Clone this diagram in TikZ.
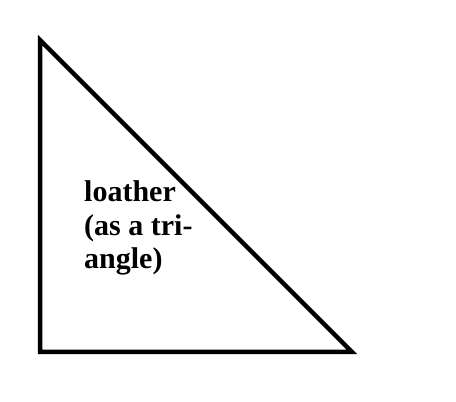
\documentclass[tikz,border=0pt]{standalone}
\usepackage{fontspec}
\setmainfont{Liberation Serif}
\usepackage{tikz}

\begin{document}
\begin{tikzpicture}[x=1pt, y=1pt,
			myedge/.style={draw, line width = 4.5pt, line join = miter},
			mylabel/.style={align=left, inner sep=0pt, anchor=base west, font=\bfseries\fontsize{30}{33.5}\selectfont}
		]
		\useasboundingbox (0,0) rectangle (456,402);

		\coordinate (top) at (40,362);
		\coordinate (corner) at (40,50);
		\coordinate (right) at (352,50);

		\draw[myedge] (top) -- (corner) -- (right) -- cycle;

		\node[mylabel] (loather) at (84,133) {loather\\(as a tri-\\angle)};

	\end{tikzpicture}
\end{document}
